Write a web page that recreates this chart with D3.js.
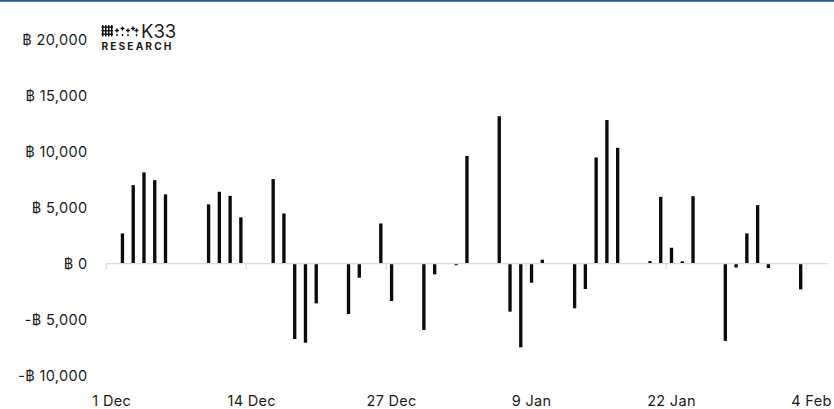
<!DOCTYPE html>
<html>
<head>
<meta charset="utf-8">
<script src="https://cdn.jsdelivr.net/npm/d3@7"></script>
<style>
  html, body { margin: 0; padding: 0; background: #ffffff; }
  svg { display: block; }
  text { font-family: Inter, "Noto Sans", "DejaVu Sans", sans-serif; fill: #1c1c1c; }
</style>
</head>
<body>
<svg id="chart" width="834" height="409"></svg>
<script>
// Daily net flow, 1 Dec – 5 Feb (BTC)
const startDay = new Date(2023, 11, 1);
const endDay = new Date(2024, 1, 6);
const days = d3.timeDay.range(startDay, endDay);

const flows = [
  0, 2690, 7000, 8130, 7440, 6170, 0, 0, 50, 5280,
  6400, 6040, 4120, 0, 0, 7530, 4470, -6730, -7060, -3550,
  0, 0, -4500, -1260, 0, 3580, -3340, 0, 0, -5920,
  -960, 0, -150, 9600, 0, 0, 13140, -4290, -7470, -1710,
  350, 0, 0, -3990, -2270, 9460, 12800, 10320, 0, 0,
  220, 5950, 1410, 200, 6010, 0, 0, -6900, -350, 2690,
  5210, -400, 0, 0, -2300, 0, 0
];

const yTicks = [-10000, -5000, 0, 5000, 10000, 15000, 20000];
const labelEvery = 13;

const svg = d3.select("#chart");
const W = 834, H = 409;

// top rule
svg.append("rect").attr("x", 0).attr("y", 0).attr("width", W).attr("height", 1.8)
  .attr("fill", "#2d5d92");

const x = d3.scaleBand()
  .domain(d3.range(days.length))
  .range([106.3, 827.6])
  .paddingInner(0.69)
  .paddingOuter(0.345);

const y = d3.scaleLinear().domain([-10000, 20000]).range([375.7, 39.3]);

const fmtNum = d3.format(",");
const fmtBtc = v => (v < 0 ? "-" : "") + "\u0E3F " + fmtNum(Math.abs(v));

// y labels
const yAxis = d3.axisLeft(y).tickValues(yTicks).tickSize(0).tickPadding(0).tickFormat(fmtBtc);
const gy = svg.append("g").attr("transform", "translate(87.5,0)").call(yAxis);
gy.select(".domain").remove();
gy.selectAll("text").attr("font-size", 14.5).attr("font-family", null).attr("fill", "#1c1c1c")
  .attr("letter-spacing", 0.35).attr("dy", "0.35em");

// bars
svg.append("g").selectAll("rect").data(flows).join("rect")
  .attr("x", (d, i) => x(i))
  .attr("width", x.bandwidth())
  .attr("y", d => y(Math.max(0, d)))
  .attr("height", d => Math.abs(y(d) - y(0)))
  .attr("fill", "#0b0b0b");

// x axis line at zero
const step = x.step();
const x0 = x.range()[0];
const x1 = x.range()[1];
const tickIdx = d3.range(0, days.length, labelEvery);

const gx = svg.append("g").attr("transform", `translate(0,${y(0)})`);
gx.append("line").attr("x1", x0).attr("x2", x1).attr("y1", 0).attr("y2", 0)
  .attr("stroke", "#d9dcdf").attr("stroke-width", 1.3);
gx.selectAll("line.tick").data(tickIdx).join("line").attr("class", "tick")
  .attr("x1", i => x0 + step * i).attr("x2", i => x0 + step * i)
  .attr("y1", 0).attr("y2", 6)
  .attr("stroke", "#d9dcdf").attr("stroke-width", 1.3);

// date labels
const fmtDay = d3.timeFormat("%-d %b");
svg.append("g").selectAll("text").data(tickIdx).join("text")
  .attr("x", i => x(i) + x.bandwidth() / 2)
  .attr("y", 406)
  .attr("text-anchor", "middle")
  .attr("font-size", 14.5)
  .attr("letter-spacing", 0.3)
  .text(i => fmtDay(days[i]));

// brand mark
const logo = svg.append("g").attr("transform", "translate(102,25)");
[0, 3, 6, 9].forEach(cx => {
  logo.append("rect").attr("x", cx).attr("y", 0).attr("width", 1.5).attr("height", 11.5).attr("fill", "#111");
});
[1.5, 5, 8.5].forEach(cy => {
  logo.append("rect").attr("x", -0.5).attr("y", cy).attr("width", 11.5).attr("height", 1.4).attr("fill", "#111");
});
const plusPts = [[15, 5.5], [20.5, 3.5], [26, 5.5], [31, 3.5], [34.5, 5.5]];
plusPts.forEach(([px, py]) => {
  logo.append("rect").attr("x", px - 2).attr("y", py - 0.7).attr("width", 4).attr("height", 1.4).attr("fill", "#111");
  logo.append("rect").attr("x", px - 0.7).attr("y", py - 2).attr("width", 1.4).attr("height", 4).attr("fill", "#111");
});
[[15, 9], [20.5, 9], [26, 9], [34.5, 9]].forEach(([px, py]) => {
  logo.append("rect").attr("x", px - 0.7).attr("y", py).attr("width", 1.4).attr("height", 2.2).attr("fill", "#111");
});
svg.append("text").attr("x", 141).attr("y", 37.5).attr("font-size", 18.5).attr("fill", "#111")
  .text("K33");
svg.append("text").attr("x", 101.5).attr("y", 50.3).attr("font-size", 10.2).attr("font-weight", 700)
  .attr("letter-spacing", 2.1).attr("fill", "#111").text("RESEARCH");
</script>
</body>
</html>
